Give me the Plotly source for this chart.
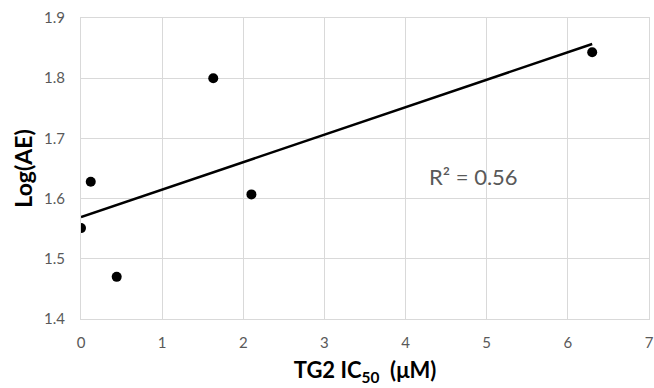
import numpy as np
import plotly.graph_objects as go

# Data
tg2_ic50 = [0.0, 0.12, 0.44, 1.63, 2.10, 6.30]
log_ae = [1.551, 1.628, 1.470, 1.800, 1.607, 1.843]
x_ticks = [0, 1, 2, 3, 4, 5, 6, 7]
y_ticks = [1.4, 1.5, 1.6, 1.7, 1.8, 1.9]
r2_label = "R² = 0.56"

# Linear trendline through the data
slope, intercept = np.polyfit(tg2_ic50, log_ae, 1)
fit_x = [min(tg2_ic50), max(tg2_ic50)]
fit_y = [slope * v + intercept for v in fit_x]

FONT = "Lato, 'Open Sans', sans-serif"
GRID = "#d9d9d9"
TXT = "#595959"

fig = go.Figure()
fig.add_trace(go.Scatter(x=fit_x, y=fit_y, mode="lines",
                         line=dict(color="black", width=2.5),
                         hoverinfo="skip", showlegend=False))
fig.add_trace(go.Scatter(x=tg2_ic50, y=log_ae, mode="markers",
                         marker=dict(color="black", size=10),
                         showlegend=False))

fig.add_annotation(x=4.26, y=1.636, text=r2_label, showarrow=False,
                   xanchor="left", yanchor="middle",
                   font=dict(family=FONT, size=22, color=TXT))

fig.update_layout(
    width=654, height=388,
    margin=dict(l=81, r=5, t=18, b=69),
    plot_bgcolor="white", paper_bgcolor="white",
    font=dict(family=FONT, color=TXT, size=15),
    xaxis=dict(range=[0, 7], tickvals=x_ticks, showgrid=True, gridcolor=GRID,
               gridwidth=1, showline=True, linecolor=GRID, mirror=True,
               zeroline=False, ticks="", ticklabelstandoff=10,
               automargin=False, ticklabeloverflow="allow",
               tickfont=dict(size=15, color=TXT, family=FONT),
               title=dict(text="<b>TG2 IC<sub>50</sub>  (μM)</b>",
                          font=dict(size=22, color="black", family=FONT),
                          standoff=12)),
    yaxis=dict(range=[1.4, 1.9], tickvals=y_ticks, tickformat=".1f",
               showgrid=True, gridcolor=GRID, gridwidth=1,
               showline=True, linecolor=GRID, mirror=True, zeroline=False,
               ticks="", ticklabelstandoff=12, automargin=False,
               tickfont=dict(size=15, color=TXT, family=FONT),
               title=dict(text="<b>Log(AE)</b>",
                          font=dict(size=23, color="black", family=FONT),
                          standoff=4)),
)

fig.write_html("out.html", config={"displayModeBar": False},
               post_script="document.body.style.margin='0';"
                           "document.body.style.overflow='hidden';")
